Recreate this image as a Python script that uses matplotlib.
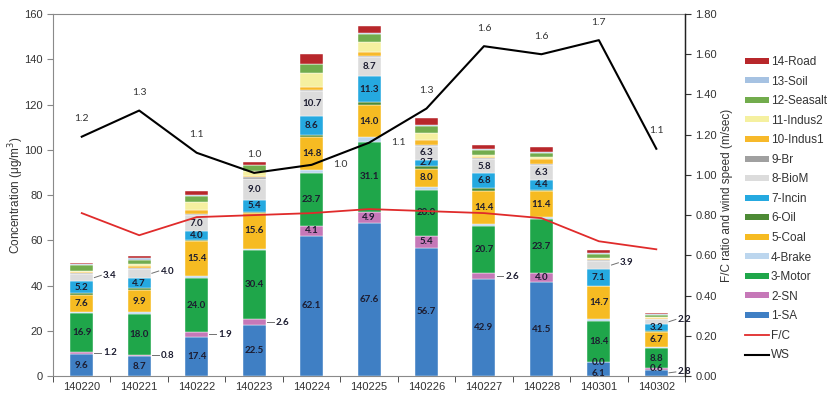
import numpy as np
import matplotlib
matplotlib.use("Agg")
import matplotlib.pyplot as plt
from matplotlib.patches import Patch
from matplotlib.lines import Line2D

plt.rcParams['font.family'] = ['Liberation Sans', 'DejaVu Sans']

# data
dates = ["140220", "140221", "140222", "140223", "140224", "140225",
         "140226", "140227", "140228", "140301", "140302"]

SA      = [9.6, 8.7, 17.4, 22.5, 62.1, 67.6, 56.7, 42.9, 41.5, 6.1, 2.8]
SN      = [1.2, 0.8, 1.9, 2.6, 4.1, 4.9, 5.4, 2.6, 4.0, 0.0, 0.6]
Motor   = [16.9, 18.0, 24.0, 30.4, 23.7, 31.1, 20.0, 20.7, 23.7, 18.4, 8.8]
Brake   = [0.7, 0.7, 0.8, 0.8, 1.0, 2.0, 1.5, 1.0, 1.0, 0.5, 0.5]
Coal    = [7.6, 9.9, 15.4, 15.6, 14.8, 14.0, 8.0, 14.4, 11.4, 14.7, 6.7]
Oil     = [0.6, 0.6, 0.6, 0.7, 0.8, 1.5, 1.2, 1.5, 0.8, 0.3, 0.3]
Incin   = [5.2, 4.7, 4.0, 5.4, 8.6, 11.3, 2.7, 6.8, 4.4, 7.1, 3.2]
BioM    = [3.4, 4.0, 7.0, 9.0, 10.7, 8.7, 6.3, 5.8, 6.3, 3.9, 2.2]
Br      = [0.3, 0.4, 0.6, 0.8, 0.5, 0.5, 0.5, 0.5, 0.5, 0.3, 0.3]
Indus1  = [0.5, 0.8, 1.6, 0.8, 1.5, 1.5, 1.8, 0.8, 2.5, 0.5, 0.3]
Indus2  = [0.6, 1.0, 3.7, 2.0, 6.3, 4.5, 3.5, 0.5, 0.5, 0.4, 0.3]
Seasalt = [2.5, 1.6, 2.5, 2.5, 3.7, 3.5, 3.0, 2.2, 2.0, 1.9, 1.0]
Soil    = [0.4, 0.8, 0.6, 0.3, 0.3, 0.3, 0.5, 0.5, 0.5, 0.4, 0.3]
Road    = [0.6, 1.0, 1.5, 1.2, 4.4, 3.5, 3.0, 2.0, 2.0, 1.0, 0.5]

FC = [0.81, 0.70, 0.79, 0.80, 0.81, 0.83, 0.82, 0.81, 0.785, 0.67, 0.63]
WS = [1.19, 1.32, 1.11, 1.01, 1.05, 1.16, 1.33, 1.64, 1.60, 1.67, 1.13]
WS_lbl = ["1.2", "1.3", "1.1", "1.0", "1.0", "1.1", "1.3", "1.6", "1.6", "1.7", "1.1"]

names = ["1-SA", "2-SN", "3-Motor", "4-Brake", "5-Coal", "6-Oil", "7-Incin",
         "8-BioM", "9-Br", "10-Indus1", "11-Indus2", "12-Seasalt", "13-Soil", "14-Road"]
stack = [SA, SN, Motor, Brake, Coal, Oil, Incin, BioM, Br, Indus1, Indus2, Seasalt, Soil, Road]
colors = ["#3f7fc4", "#c678b8", "#1fa64a", "#bcd6ee", "#f6bb22", "#4d8a35", "#25a9e0",
          "#dcdcdc", "#a0a0a0", "#f7b92a", "#f5f0a0", "#72ac4d", "#a6c2e2", "#b8272b"]

# which small labels sit outside the bar
sn_out = [True, True, True, True, False, False, False, True, False, False, False]
biom_out = [True, True, False, False, False, False, False, False, False, True, True]

fig = plt.figure(figsize=(8.39, 3.97), dpi=100)
ax = fig.add_axes([0.0632, 0.0529, 0.7533, 0.9118])
x = np.arange(len(dates))
w = 0.4

bottom = np.zeros(len(dates))
for vals, col in zip(stack, colors):
    ax.bar(x, vals, w, bottom=bottom, color=col, edgecolor="white", linewidth=0.3, zorder=2)
    bottom += np.array(vals)

lbl_kw = dict(fontsize=7, fontweight="bold", color="#1c1c30", family="Lato", zorder=5)

def inside(i, y, v):
    ax.text(x[i], y, f"{v:.1f}", ha="center", va="center", **lbl_kw)

def outside(i, y, v, dy=0.0):
    ax.plot([x[i] + w / 2 + 0.02, x[i] + w / 2 + 0.14], [y, y + dy], color="#707070", lw=0.7, zorder=5)
    ax.text(x[i] + w / 2 + 0.17, y + dy, f"{v:.1f}", ha="left", va="center", **lbl_kw)

cum = np.cumsum(np.array(stack), axis=0)
for i in range(len(dates)):
    base = lambda k: cum[k - 1][i] if k > 0 else 0.0
    # SA
    if i == 10:
        outside(i, SA[i] / 2, SA[i], dy=0.4)
    elif i == 9:
        inside(i, 1.3, SA[i])
    else:
        inside(i, SA[i] / 2, SA[i])
    # SN
    if sn_out[i]:
        outside(i, base(1) + SN[i] / 2, SN[i])
    elif i == 9:
        inside(i, 5.8, SN[i])
    else:
        inside(i, base(1) + SN[i] / 2, SN[i])
    # Motor, Coal, Incin
    for k in (2, 4, 6):
        inside(i, base(k) + stack[k][i] / 2, stack[k][i])
    # BioM
    if biom_out[i]:
        outside(i, base(7) + BioM[i] / 2, BioM[i], dy=1.0)
    else:
        inside(i, base(7) + BioM[i] / 2, BioM[i])

ax.set_xlim(-0.5, len(dates) - 0.5)
ax.set_ylim(0, 160)
ax.set_yticks(np.arange(0, 161, 20))
ax.set_xticks(x)
ax.set_xticklabels(dates)
ax.set_xticks(np.arange(-0.5, len(dates), 1.0), minor=True)
ax.tick_params(axis="x", which="major", length=0, labelsize=8, pad=4)
ax.tick_params(axis="x", which="minor", length=4, color="#888888")
ax.tick_params(axis="y", labelsize=8, length=4, color="#888888", colors="#333333")
ax.tick_params(axis="x", colors="#333333", which="both")
for s in ("left", "top", "bottom"):
    ax.spines[s].set_color("#8a8a8a")
ax.set_ylabel("Concentration (μg/m$^3$)", fontsize=8.5, color="#333333")
ax.yaxis.set_label_coords(-0.043, 0.5)

ax2 = ax.twinx()
ax2.set_ylim(0, 1.8)
ax2.set_yticks(np.arange(0, 1.81, 0.2))
ax2.set_yticklabels([f"{t:.2f}" for t in np.arange(0, 1.81, 0.2)])
ax2.tick_params(axis="y", labelsize=8, length=4, colors="#333333")
ax2.spines["right"].set_color("#222222")
ax2.spines["right"].set_linewidth(1.0)
for s in ("left", "top", "bottom"):
    ax2.spines[s].set_visible(False)
ax2.set_ylabel("F/C ratio and wind speed (m/sec)", fontsize=8.5, color="#333333")
ax2.yaxis.set_label_coords(1.057, 0.5)

ax2.plot(x, FC, color="#e02b2b", lw=1.3, zorder=3)
ax2.plot(x, WS, color="black", lw=1.5, zorder=3)

ws_kw = dict(fontsize=7.5, color="#333333", family="Lato")
for i, (v, t) in enumerate(zip(WS, WS_lbl)):
    if i in (4, 5):
        ax2.text(x[i] + 0.38, v, t, ha="left", va="center", **ws_kw)
    else:
        ax2.text(x[i], v + 0.09, t, ha="center", va="center", **ws_kw)

handles = [Patch(facecolor=c, edgecolor="none") for c in colors[::-1]]
labels = names[::-1]
handles += [Line2D([], [], color="#e02b2b", lw=1.3), Line2D([], [], color="black", lw=1.5)]
labels += ["F/C", "WS"]
fig.legend(handles, labels, loc="upper left", bbox_to_anchor=(0.888, 0.859), frameon=False,
           fontsize=8.5, handlelength=2.0, handleheight=0.4, handletextpad=0.2,
           labelspacing=0.64, borderpad=0, borderaxespad=0, labelcolor="#333333")

fig.savefig("out.png", dpi=100)
